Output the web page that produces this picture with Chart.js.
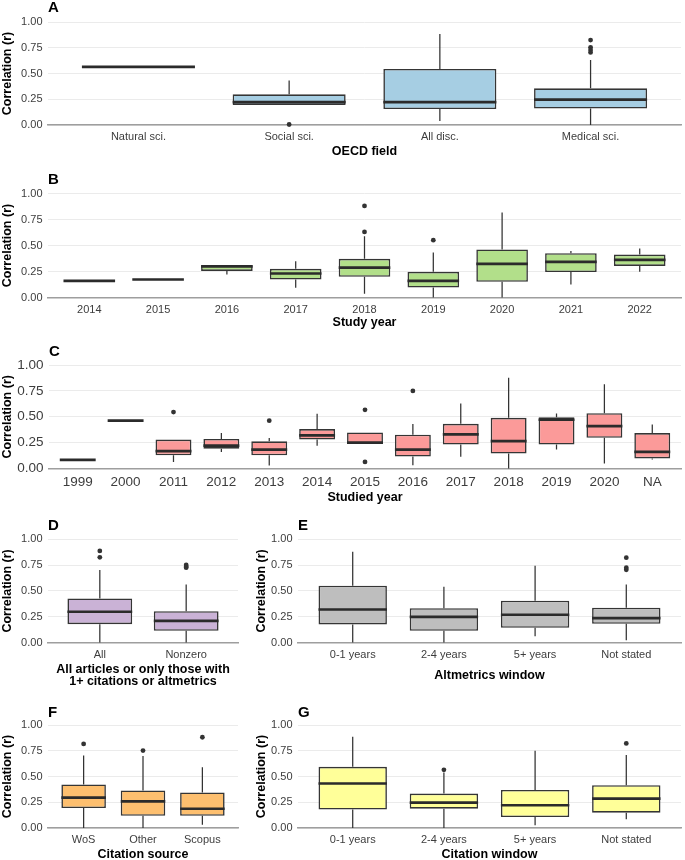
<!DOCTYPE html>
<html><head><meta charset="utf-8">
<script src="https://cdn.jsdelivr.net/npm/chart.js@4/dist/chart.umd.min.js"></script>
<style>
html,body{margin:0;padding:0;width:685px;height:860px;overflow:hidden;background:#fff;font-family:'Liberation Sans',Arial,sans-serif;}
.panel{position:absolute;}
.letter{position:absolute;font-weight:bold;font-size:15px;line-height:15px;color:#000;}
</style></head><body>
<script>
// ---------- DATA ----------
const yTicks = [0, 0.25, 0.5, 0.75, 1];

const aCats = ['Natural sci.', 'Social sci.', 'All disc.', 'Medical sci.'];
const aLo  = [0.565, 0.195, 0.040, 0.000];
const aQ1  = [0.565, 0.195, 0.155, 0.160];
const aMed = [0.565, 0.222, 0.223, 0.246];
const aQ3  = [0.565, 0.298, 0.544, 0.356];
const aHi  = [0.565, 0.432, 0.883, 0.631];
const aOut = [[], [0.005], [], [0.825, 0.754, 0.728, 0.705]];

const bCats = ['2014', '2015', '2016', '2017', '2018', '2019', '2020', '2021', '2022'];
const bLo  = [0.160, 0.173, 0.220, 0.093, 0.035, 0.000, 0.000, 0.125, 0.247];
const bQ1  = [0.160, 0.173, 0.256, 0.173, 0.199, 0.096, 0.151, 0.244, 0.304];
const bMed = [0.160, 0.173, 0.300, 0.231, 0.288, 0.160, 0.324, 0.343, 0.362];
const bQ3  = [0.160, 0.173, 0.311, 0.276, 0.372, 0.247, 0.462, 0.426, 0.413];
const bHi  = [0.160, 0.173, 0.311, 0.349, 0.590, 0.433, 0.817, 0.446, 0.471];
const bOut = [[], [], [], [], [0.881, 0.631], [0.551], [], [], []];

const cCats = ['1999', '2000', '2011', '2012', '2013', '2014', '2015', '2016', '2017', '2018', '2019', '2020', 'NA'];
const cLo  = [0.083, 0.462, 0.064, 0.160, 0.029, 0.221, 0.237, 0.032, 0.113, 0.000, 0.184, 0.048, 0.087];
const cQ1  = [0.083, 0.462, 0.128, 0.192, 0.128, 0.279, 0.237, 0.115, 0.232, 0.145, 0.232, 0.297, 0.097];
const cMed = [0.083, 0.462, 0.167, 0.221, 0.183, 0.320, 0.250, 0.183, 0.329, 0.265, 0.471, 0.410, 0.161];
const cQ3  = [0.083, 0.462, 0.279, 0.285, 0.263, 0.381, 0.349, 0.327, 0.432, 0.490, 0.494, 0.535, 0.342];
const cHi  = [0.083, 0.462, 0.279, 0.343, 0.295, 0.529, 0.349, 0.430, 0.629, 0.877, 0.532, 0.813, 0.426];
const cOut = [[], [], [0.545], [], [0.462], [], [0.567, 0.064], [0.750], [], [], [], [], []];

const dCats = ['All', 'Nonzero'];
const dLo  = [0.000, 0.000];
const dQ1  = [0.178, 0.113];
const dMed = [0.298, 0.210];
const dQ3  = [0.427, 0.304];
const dHi  = [0.702, 0.563];
const dOut = [[0.887, 0.825], [0.751, 0.735, 0.725]];

const eCats = ['0-1 years', '2-4 years', '5+ years', 'Not stated'];
const eLo  = [0.000, 0.000, 0.061, 0.023];
const eQ1  = [0.175, 0.113, 0.142, 0.181];
const eMed = [0.320, 0.249, 0.269, 0.236];
const eQ3  = [0.550, 0.333, 0.405, 0.337];
const eHi  = [0.880, 0.540, 0.744, 0.563];
const eOut = [[], [], [], [0.822, 0.725, 0.705]];

const fCats = ['WoS', 'Other', 'Scopus'];
const fLo  = [0.000, 0.000, 0.032];
const fQ1  = [0.194, 0.119, 0.119];
const fMed = [0.294, 0.258, 0.187];
const fQ3  = [0.423, 0.365, 0.345];
const fHi  = [0.703, 0.700, 0.590];
const fOut = [[0.816], [0.752], [0.881]];

const gCats = ['0-1 years', '2-4 years', '5+ years', 'Not stated'];
const gLo  = [0.000, 0.000, 0.026, 0.084];
const gQ1  = [0.179, 0.188, 0.107, 0.149];
const gMed = [0.432, 0.247, 0.221, 0.286];
const gQ3  = [0.594, 0.334, 0.370, 0.416];
const gHi  = [0.886, 0.540, 0.750, 0.708];
const gOut = [[], [0.565], [], [0.821]];

// ---------- RENDERING ----------
Chart.defaults.font.family = "'Liberation Sans', Arial, sans-serif";
const DARK = '#333333';

function panel(cfg) {
  const top = Math.floor(cfg.plotTop - 18);
  const titleSize = 12.5, titleLHm = cfg.titleLH || 1.2;
  const tlh = titleSize * titleLHm;
  const bottom = Math.ceil(cfg.titleC + tlh / 2 + 1);
  const H = bottom - top;
  const div = document.createElement('div');
  div.className = 'panel';
  div.style.left = cfg.left + 'px';
  div.style.top = top + 'px';
  const cv = document.createElement('canvas');
  cv.width = cfg.width; cv.height = H;
  cv.style.width = cfg.width + 'px'; cv.style.height = H + 'px';
  div.appendChild(cv);
  document.body.appendChild(div);

  const lt = document.createElement('div');
  lt.className = 'letter';
  lt.textContent = cfg.letter;
  lt.style.left = (cfg.left + cfg.axisW) + 'px';
  lt.style.top = (cfg.letterC - 7.3) + 'px';
  document.body.appendChild(lt);

  const n = cfg.cats.length;
  const hw = 0.375;
  const medData = [], whiskData = [], outData = [];
  cfg.cats.forEach((c, i) => {
    const x = i + 1;
    medData.push({x: x - hw, y: cfg.med[i]}, {x: x + hw, y: cfg.med[i]}, {x: x + hw, y: null});
    whiskData.push({x: x, y: cfg.hi[i]}, {x: x, y: cfg.q3[i]}, {x: x, y: null},
                   {x: x, y: cfg.q1[i]}, {x: x, y: cfg.lo[i]}, {x: x, y: null});
    cfg.out[i].forEach(v => outData.push({x: x, y: v}));
  });
  const boxData = cfg.cats.map((c, i) => ({x: i + 1, y: [cfg.q1[i], cfg.q3[i]]}));

  const tickLH = cfg.tickSize * 1.2;
  const tickPad = cfg.tickC - cfg.plotBottom - tickLH / 2;
  const titlePadB = bottom - cfg.titleC - tlh / 2;

  new Chart(cv, {
    type: 'bar',
    data: {
      datasets: [
        {type: 'line', data: medData, borderColor: '#2b2b2b', borderWidth: 2.7, pointRadius: 0, fill: false, clip: false, borderCapStyle: 'butt'},
        {type: 'scatter', data: outData, backgroundColor: DARK, borderWidth: 0, pointRadius: 2.4, clip: false},
        {type: 'bar', data: boxData, backgroundColor: cfg.color, borderColor: '#353535', borderWidth: 1.6,
         borderSkipped: false, barPercentage: 0.75, categoryPercentage: 1},
        {type: 'line', data: whiskData, borderColor: DARK, borderWidth: 1.25, pointRadius: 0, fill: false, clip: false}
      ]
    },
    options: {
      responsive: false, animation: false, events: [],
      layout: {padding: {top: cfg.plotTop - top, right: cfg.padR, left: 0, bottom: 0}},
      plugins: {legend: {display: false}, tooltip: {enabled: false}},
      scales: {
        x: {
          type: 'linear', min: 0.4, max: n + 0.6, offset: false,
          grid: {display: false, drawTicks: false, offset: false},
          border: {display: true, color: '#9e9e9e', width: 1.6},
          afterBuildTicks: s => { s.ticks = cfg.cats.map((c, i) => ({value: i + 1})); },
          afterFit: s => { s.height = bottom - cfg.plotBottom; },
          ticks: {autoSkip: false, maxRotation: 0, minRotation: 0, padding: tickPad, color: '#3d3d3d',
                  font: {size: cfg.tickSize}, callback: v => cfg.cats[Math.round(v) - 1] ?? ''},
          title: {display: true, text: cfg.title, color: '#000',
                  font: {size: titleSize, weight: 'bold', lineHeight: titleLHm},
                  padding: {top: 0, bottom: titlePadB}}
        },
        y: {
          min: 0, max: 1,
          afterBuildTicks: s => { s.ticks = yTicks.map(v => ({value: v})); },
          afterFit: s => { s.width = cfg.axisW; },
          grid: {color: '#ebebeb', lineWidth: 1, drawTicks: false},
          border: {display: false},
          ticks: {padding: 5.5, color: '#3d3d3d', font: {size: cfg.tickSize}, callback: v => Number(v).toFixed(2)},
          title: {display: true, text: 'Correlation (r)', color: '#000',
                  font: {size: titleSize, weight: 'bold', lineHeight: 1.2}, padding: {top: 0, bottom: 0}}
        }
      }
    }
  });
}

panel({letter: 'A', left: 0, width: 685, axisW: 48, padR: 1, plotTop: 22, plotBottom: 125, tickC: 137, titleC: 152, letterC: 6,
  tickSize: 11, title: 'OECD field', color: '#a6cee3',
  cats: aCats, lo: aLo, q1: aQ1, med: aMed, q3: aQ3, hi: aHi, out: aOut});
panel({letter: 'B', left: 0, width: 685, axisW: 48, padR: 1, plotTop: 193.5, plotBottom: 297.5, tickC: 309.5, titleC: 323, letterC: 178.5,
  tickSize: 11, title: 'Study year', color: '#b2df8a',
  cats: bCats, lo: bLo, q1: bQ1, med: bMed, q3: bQ3, hi: bHi, out: bOut});
panel({letter: 'C', left: 0, width: 685, axisW: 49, padR: 1, plotTop: 365, plotBottom: 468.5, tickC: 482, titleC: 498, letterC: 350,
  tickSize: 13.5, title: 'Studied year', color: '#fb9a99',
  cats: cCats, lo: cLo, q1: cQ1, med: cMed, q3: cQ3, hi: cHi, out: cOut});
panel({letter: 'D', left: 0, width: 242, axisW: 48, padR: 0, plotTop: 539.3, plotBottom: 642.5, tickC: 655, titleC: 682, letterC: 524,
  tickSize: 11, title: ['All articles or only those with', '1+ citations or altmetrics'], titleLH: 0.96, color: '#cab2d6',
  cats: dCats, lo: dLo, q1: dQ1, med: dMed, q3: dQ3, hi: dHi, out: dOut});
panel({letter: 'E', left: 254, width: 431, axisW: 44, padR: 1, plotTop: 539.3, plotBottom: 642.5, tickC: 655, titleC: 676, letterC: 524,
  tickSize: 11, title: 'Altmetrics window', color: '#bebebe',
  cats: eCats, lo: eLo, q1: eQ1, med: eMed, q3: eQ3, hi: eHi, out: eOut});
panel({letter: 'F', left: 0, width: 242, axisW: 48, padR: 0, plotTop: 725, plotBottom: 828, tickC: 840, titleC: 855, letterC: 711,
  tickSize: 11, title: 'Citation source', color: '#fdbf6f',
  cats: fCats, lo: fLo, q1: fQ1, med: fMed, q3: fQ3, hi: fHi, out: fOut});
panel({letter: 'G', left: 254, width: 431, axisW: 44, padR: 1, plotTop: 725, plotBottom: 828, tickC: 840, titleC: 855, letterC: 711,
  tickSize: 11, title: 'Citation window', color: '#ffff99',
  cats: gCats, lo: gLo, q1: gQ1, med: gMed, q3: gQ3, hi: gHi, out: gOut});
</script>
</body></html>
